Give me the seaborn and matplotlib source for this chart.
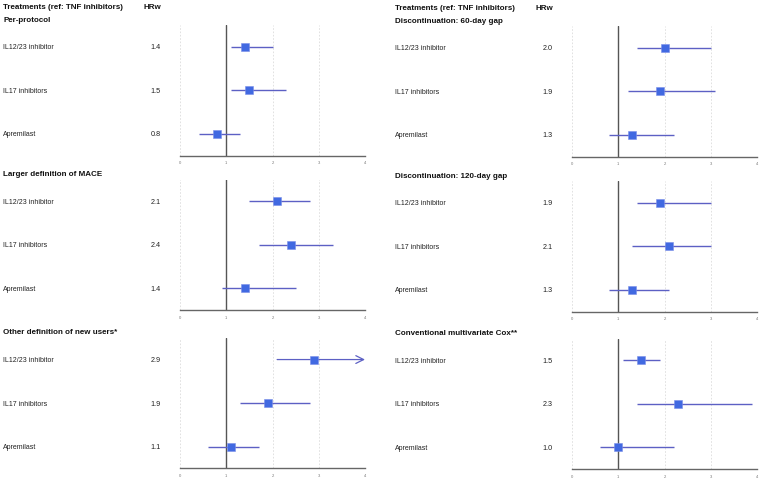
import matplotlib
matplotlib.use("Agg")
import matplotlib.pyplot as plt
import matplotlib.transforms as mtransforms
import seaborn as sns
import pandas as pd

# ---------------- data ----------------
treatments = ["IL12/23 inhibitor", "IL17 inhibitors", "Apremilast"]
header_left = "Treatments (ref: TNF inhibitors)"
header_hr = "HRw"

titles = ["Per-protocol", "Larger definition of MACE", "Other definition of new users*",
          "Discontinuation: 60-day gap", "Discontinuation: 120-day gap",
          "Conventional multivariate Cox**"]

pp_hr = [1.4, 1.5, 0.8]
pp_lo = [1.1, 1.1, 0.4]
pp_hi = [2.0, 2.3, 1.3]

mace_hr = [2.1, 2.4, 1.4]
mace_lo = [1.5, 1.7, 0.9]
mace_hi = [2.8, 3.3, 2.5]

newusers_hr = [2.9, 1.9, 1.1]
newusers_lo = [2.1, 1.3, 0.6]
newusers_hi = [4.6, 2.8, 1.7]

gap60_hr = [2.0, 1.9, 1.3]
gap60_lo = [1.4, 1.2, 0.8]
gap60_hi = [3.0, 3.1, 2.2]

gap120_hr = [1.9, 2.1, 1.3]
gap120_lo = [1.4, 1.3, 0.8]
gap120_hi = [3.0, 3.0, 2.1]

cox_hr = [1.5, 2.3, 1.0]
cox_lo = [1.1, 1.4, 0.6]
cox_hi = [1.9, 3.9, 2.2]

x_ticks = [0, 1, 2, 3, 4]

# ---------------- style ----------------
sns.set_theme(style="white")
plt.rcParams["font.family"] = ["Liberation Sans", "DejaVu Sans"]

W, H = 760, 480
fig = plt.figure(figsize=(W / 100, H / 100), dpi=100)

MARK = "#4169E1"
LINE = "#5c60c4"
AXC = "#666666"

panels = [
    (titles[0], pp_hr, pp_lo, pp_hi),
    (titles[1], mace_hr, mace_lo, mace_hi),
    (titles[2], newusers_hr, newusers_lo, newusers_hi),
    (titles[3], gap60_hr, gap60_lo, gap60_hi),
    (titles[4], gap120_hr, gap120_lo, gap120_hi),
    (titles[5], cox_hr, cox_lo, cox_hi),
]

# layout in pixels
col_cfg = [
    dict(ax_left=180, label_x=3, hr_x=161),
    dict(ax_left=572, label_x=395, hr_x=553),
]
ax_w = 185
ax_h = 130.5
bottoms = [[155.7, 310.0, 468.3], [156.7, 311.7, 469.0]]

for i, (title, hr, lo, hi) in enumerate(panels):
    col = i // 3
    r = i % 3
    cfg = col_cfg[col]
    bot = bottoms[col][r]
    top = bot - ax_h
    ax = fig.add_axes([cfg["ax_left"] / W, 1 - bot / H, ax_w / W, ax_h / H])

    df = pd.DataFrame({"treatment": treatments, "hr": hr, "lo": lo, "hi": hi,
                       "pos": [1, 2, 3]})
    ax.set_xlim(0, 4)
    ax.set_ylim(3.5, 0.5)

    # grid lines
    for xt in x_ticks:
        if xt != 1:
            ax.axvline(xt, color="#dcdcdc", lw=0.6, ls=(0, (2, 2)), zorder=0)
    ax.axvline(1, color="#555555", lw=1.0, zorder=1)

    # CI lines
    for _, row in df.iterrows():
        if row["hi"] > 4:
            ax.annotate("", xy=(4, row["pos"]), xytext=(row["lo"], row["pos"]),
                        arrowprops=dict(arrowstyle="->", color=LINE, lw=0.9,
                                        mutation_scale=14, shrinkA=0, shrinkB=0),
                        annotation_clip=False, zorder=2)
        else:
            ax.hlines(row["pos"], row["lo"], row["hi"], color=LINE, lw=1.0, zorder=2)

    sns.scatterplot(data=df, x="hr", y="pos", marker="s", s=38, color=MARK,
                    edgecolor="#7a8fe8", linewidth=0.4, ax=ax, zorder=3, legend=False)

    ax.set_xlim(0, 4)
    ax.set_ylim(3.5, 0.5)
    ax.set_xlabel("")
    ax.set_ylabel("")
    ax.set_yticks([])
    ax.set_xticks(x_ticks)
    ax.set_xticklabels([str(t) for t in x_ticks])
    ax.tick_params(axis="x", direction="inout", length=3, width=0.6, colors=AXC,
                   labelsize=3, pad=2.5, labelcolor="#777777")
    for s in ["top", "left", "right"]:
        ax.spines[s].set_visible(False)
    ax.spines["bottom"].set_color(AXC)
    ax.spines["bottom"].set_linewidth(1.0)

    trans = mtransforms.blended_transform_factory(fig.transFigure, ax.transData)
    for _, row in df.iterrows():
        ax.text(cfg["label_x"] / W, row["pos"], row["treatment"], transform=trans,
                ha="left", va="center_baseline", fontsize=5.0, color="#222222",
                clip_on=False)
        ax.text(cfg["hr_x"] / W, row["pos"], f"{row['hr']:.1f}", transform=trans,
                ha="right", va="center_baseline", fontsize=5.2, color="#222222",
                clip_on=False)

    fig.text(cfg["label_x"] / W, 1 - (top - 6.0) / H, title, ha="left",
             va="center_baseline", fontsize=5.8, fontweight="bold", color="#111111")
    if r == 0:
        fig.text(cfg["label_x"] / W, 1 - (top - 19.0) / H, header_left, ha="left",
                 va="center_baseline", fontsize=5.8, fontweight="bold", color="#111111")
        fig.text(cfg["hr_x"] / W, 1 - (top - 19.0) / H, header_hr, ha="right",
                 va="center_baseline", fontsize=5.8, fontweight="bold", color="#111111")

fig.savefig("out.png", dpi=100, facecolor="white")
